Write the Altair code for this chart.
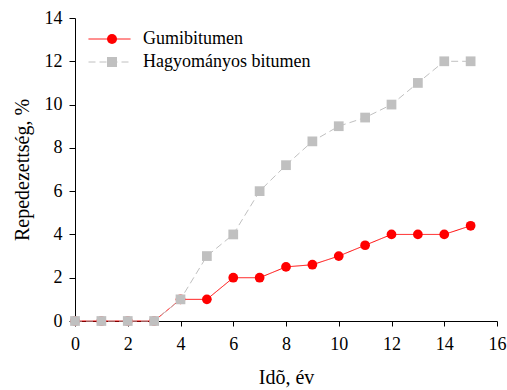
import altair as alt
import pandas as pd

years = list(range(16))
gumi = [0, 0, 0, 0, 1, 1, 2, 2, 2.5, 2.6, 3, 3.5, 4, 4, 4, 4.4]
hagy = [0, 0, 0, 0, 1, 3, 4, 6, 7.2, 8.3, 9, 9.4, 10, 11, 12, 12]
series = ["Gumibitumen", "Hagyományos bitumen"]
colors = ["#ff0000", "#c0c0c0"]
dashes = [[1, 0], [7, 4]]
shapes = ["circle", "square"]
x_ticks = [0, 2, 4, 6, 8, 10, 12, 14, 16]
y_ticks = [0, 2, 4, 6, 8, 10, 12, 14]

df = pd.DataFrame({
    "year": years + years,
    "value": gumi + hagy,
    "series": [series[0]] * len(gumi) + [series[1]] * len(hagy),
})

FONT = "Liberation Serif"

x_enc = alt.X("year:Q", scale=alt.Scale(domain=[0, 16], nice=False),
              axis=alt.Axis(values=x_ticks, title="Idõ, év", grid=False,
                            labelFlush=False, labelOverlap=False))
y_enc = alt.Y("value:Q", scale=alt.Scale(domain=[0, 14], nice=False),
              axis=alt.Axis(values=y_ticks, title="Repedezettség, %", grid=False,
                            labelFlush=False, labelOverlap=False))

line_legend = alt.Legend(orient="none", legendX=13, legendY=12, title=None,
                         symbolType="stroke", symbolSize=1764, symbolStrokeWidth=1,
                         labelFont=FONT, labelFontSize=18, labelColor="black",
                         labelLimit=400, labelOffset=12, rowPadding=5, padding=0,
                         clipHeight=18)
point_legend = alt.Legend(orient="none", legendX=28, legendY=12, title=None,
                          symbolSize=100, labelFont=FONT, labelFontSize=18,
                          labelExpr="''", labelLimit=400, labelOffset=0,
                          rowPadding=5, padding=0, symbolStrokeWidth=0,
                          clipHeight=18)

lines = alt.Chart(df).mark_line(strokeWidth=1).encode(
    x=x_enc, y=y_enc,
    color=alt.Color("series:N", scale=alt.Scale(domain=series, range=colors), legend=line_legend),
    strokeDash=alt.StrokeDash("series:N", scale=alt.Scale(domain=series, range=dashes), legend=line_legend),
)

points = alt.Chart(df).mark_point(filled=True, opacity=1, size=95, strokeWidth=0).encode(
    x=x_enc, y=y_enc,
    fill=alt.Fill("series:N", scale=alt.Scale(range=colors), legend=point_legend),
    shape=alt.Shape("series:N", scale=alt.Scale(range=shapes), legend=point_legend),
)

chart = alt.layer(lines, points).properties(
    width=422, height=303,
    autosize=alt.AutoSizeParams(type="none"),
    padding={"left": 75, "top": 18, "right": 10, "bottom": 69},
    background="white",
).configure_view(stroke=None).configure_axis(
    labelFont=FONT, labelFontSize=18, labelColor="black",
    titleFont=FONT, titleFontSize=20, titleFontWeight="normal", titleColor="black",
    domainColor="black", tickColor="black", domainWidth=1, tickWidth=1,
    tickSize=6, labelPadding=7, titlePadding=12,
).configure_axisX(labelPadding=9, tickSize=5, titlePadding=14)

chart.save("out.html", embed_options={"renderer": "svg", "actions": False})
